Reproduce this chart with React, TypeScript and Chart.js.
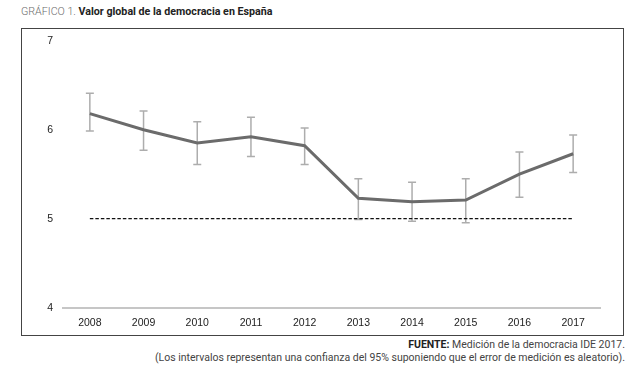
import React, { useEffect, useRef } from "react";
import { Chart, registerables } from "chart.js";

Chart.register(...registerables);

const years = ["2008", "2009", "2010", "2011", "2012", "2013", "2014", "2015", "2016", "2017"];
const values = [6.18, 6.0, 5.85, 5.92, 5.82, 5.23, 5.19, 5.21, 5.5, 5.73];
const upper = [6.41, 6.21, 6.09, 6.14, 6.02, 5.45, 5.41, 5.45, 5.75, 5.94];
const lower = [5.985, 5.77, 5.61, 5.7, 5.61, 4.99, 4.97, 4.955, 5.24, 5.52];
const threshold = [5, 5, 5, 5, 5, 5, 5, 5, 5, 5];
const yTicks = [4, 5, 6, 7];

const errorBars = {
  id: "errorBars",
  beforeDatasetsDraw(chart: any) {
    const { ctx, scales } = chart;
    const xs = scales.x;
    const ys = scales.y;
    ctx.save();
    ctx.strokeStyle = "#adadad";
    ctx.lineWidth = 1.5;
    for (let i = 0; i < years.length; i++) {
      const x = xs.getPixelForValue(i);
      const yt = ys.getPixelForValue(upper[i]);
      const yb = ys.getPixelForValue(lower[i]);
      const w = 4;
      ctx.beginPath();
      ctx.moveTo(x, yt);
      ctx.lineTo(x, yb);
      ctx.moveTo(x - w, yt);
      ctx.lineTo(x + w, yt);
      ctx.moveTo(x - w, yb);
      ctx.lineTo(x + w, yb);
      ctx.stroke();
    }
    ctx.restore();
  },
};

function ChartCanvas() {
  const ref = useRef<HTMLCanvasElement>(null);
  useEffect(() => {
    if (!ref.current) return;
    const chart = new Chart(ref.current, {
      type: "line",
      data: {
        labels: years,
        datasets: [
          {
            data: threshold,
            borderColor: "#111",
            borderWidth: 1.3,
            borderDash: [3.5, 2],
            pointRadius: 0,
            fill: false,
          },
          {
            data: values,
            borderColor: "#6b6b6b",
            borderWidth: 3,
            pointRadius: 0,
            fill: false,
            tension: 0,
          },
        ],
      },
      options: {
        responsive: false,
        animation: false,
        plugins: { legend: { display: false }, tooltip: { enabled: false } },
        layout: { padding: { top: 11.7, right: 23, left: 0, bottom: 0 } },
        scales: {
          x: {
            offset: true,
            grid: { display: false, drawTicks: false },
            border: { display: true, color: "#c6c6c6", width: 2 },
            ticks: {
              padding: 9,
              color: "#222",
              font: { family: "'Liberation Sans', Arial, sans-serif", size: 10.5 },
              maxRotation: 0,
            },
            afterFit(scale: any) {
              scale.height = 27.3;
            },
          },
          y: {
            min: 4,
            max: 7,
            grid: { display: false, drawTicks: false },
            border: { display: false },
            afterBuildTicks(scale: any) {
              scale.ticks = yTicks.map((v) => ({ value: v }));
            },
            ticks: {
              padding: 10,
              color: "#222",
              font: { family: "'Liberation Sans', Arial, sans-serif", size: 10.5 },
            },
            afterFit(scale: any) {
              scale.width = 41;
              scale.paddingTop = 0;
              scale.paddingBottom = 0;
            },
          },
        },
      },
      plugins: [errorBars],
    });
    return () => chart.destroy();
  }, []);
  return (
    <canvas
      ref={ref}
      width={601}
      height={306}
      style={{ position: "absolute", left: 0, top: 0, width: 601, height: 306 }}
    />
  );
}

export default function App() {
  const font = "Roboto, 'Noto Sans', sans-serif";
  return (
    <div
      style={{
        position: "absolute",
        left: 0,
        top: 0,
        width: 639,
        height: 375,
        background: "#fff",
        fontFamily: font,
        overflow: "hidden",
      }}
    >
      <div
        style={{
          position: "absolute",
          left: 21,
          top: 5,
          fontSize: 10.7,
          lineHeight: "14px",
          whiteSpace: "nowrap",
        }}
      >
        <span style={{ color: "#6a6a6a", fontWeight: 300 }}>GRÁFICO 1. </span>
        <span style={{ color: "#222", fontWeight: 700 }}>Valor global de la democracia en España</span>
      </div>
      <div
        style={{
          position: "absolute",
          left: 21,
          top: 28,
          width: 603,
          height: 308,
          boxSizing: "border-box",
          border: "1px solid #444",
        }}
      >
        <ChartCanvas />
      </div>
      <div
        style={{
          position: "absolute",
          right: 14,
          top: 339,
          textAlign: "right",
          fontSize: 10.5,
          lineHeight: "12.5px",
          color: "#444",
          whiteSpace: "nowrap",
        }}
      >
        <div>
          <span style={{ fontWeight: 700, color: "#222" }}>FUENTE:</span> Medición de la democracia IDE 2017.
        </div>
        <div>(Los intervalos representan una confianza del 95% suponiendo que el error de medición es aleatorio).</div>
      </div>
    </div>
  );
}
